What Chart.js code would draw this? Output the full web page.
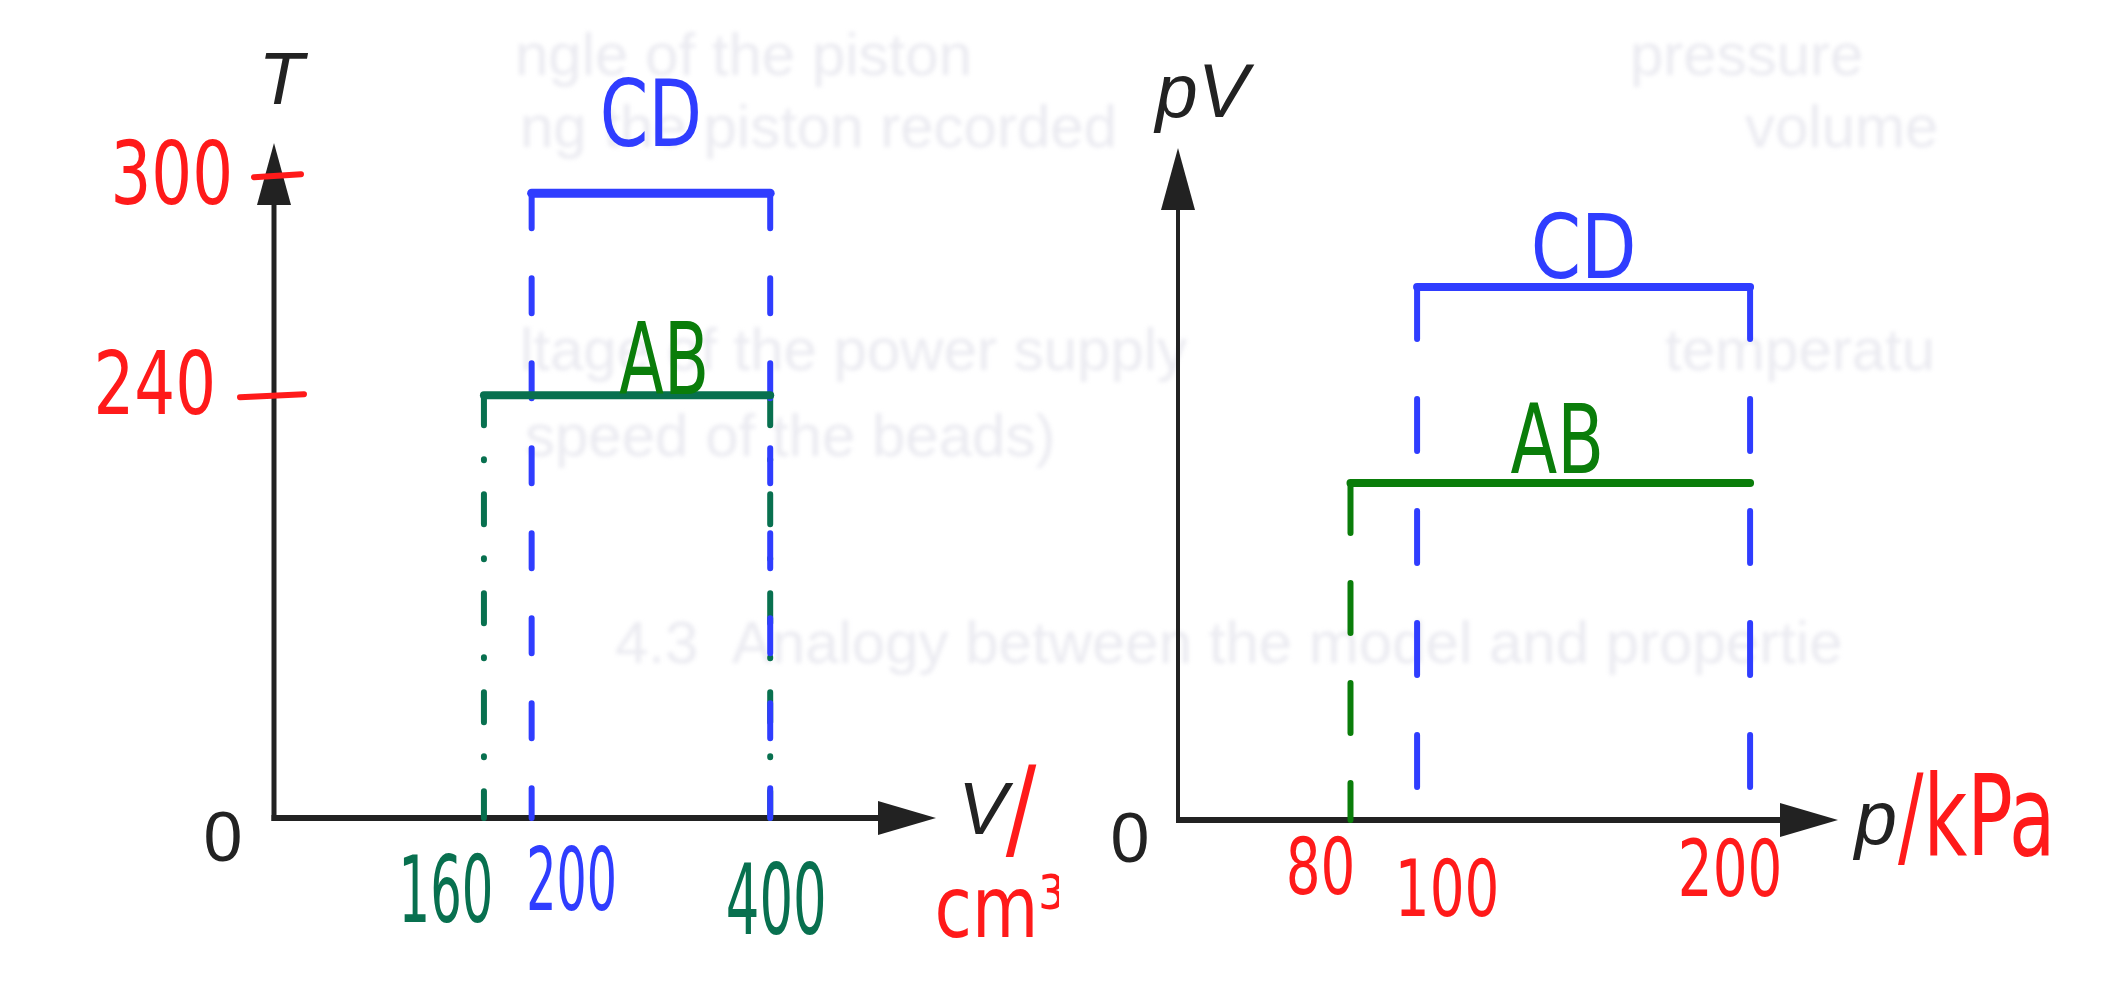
<!DOCTYPE html>
<html>
<head>
<meta charset="utf-8">
<script src="https://cdn.jsdelivr.net/npm/chart.js@4.4.1/dist/chart.umd.min.js"></script>
<style>
  html, body { margin: 0; padding: 0; background: #fff; width: 2118px; height: 1000px; overflow: hidden; }
  .box { position: absolute; top: 0; width: 1059px; height: 1000px; }
  #left-box { left: 0; }
  #right-box { left: 1059px; }
  .ghost { position: absolute; font-family: 'Liberation Sans', Arial, sans-serif; font-size: 60px;
           color: #ebebf1; filter: blur(2px); white-space: nowrap; transform: translateY(-50%); }
</style>
</head>
<body>
<!-- texto tenue del libro escaneado -->
<div class="ghost" style="left:515px; top:54px;">ngle of the piston</div>
<div class="ghost" style="left:1630px; top:54px;">pressure</div>
<div class="ghost" style="left:520px; top:126px;">ng the piston recorded</div>
<div class="ghost" style="left:1745px; top:126px;">volume</div>
<div class="ghost" style="left:520px; top:349px;">ltage of the power supply</div>
<div class="ghost" style="left:1665px; top:349px;">temperatu</div>
<div class="ghost" style="left:525px; top:435px;">speed of the beads)</div>
<div class="ghost" style="left:615px; top:642px;">4.3&nbsp;&nbsp;Analogy between the model and propertie</div>

<div class="box" id="left-box"><canvas id="chartTV" width="1059" height="1000"></canvas></div>
<div class="box" id="right-box"><canvas id="chartPV" width="1059" height="1000"></canvas></div>

<script>
// Datos
const volumeTicks = [160, 200, 400];      // V / cm3
const tempTicks = [240, 300];             // T
const pressureTicks = [80, 100, 200];     // p / kPa

const abVolume = [160, 400];
const abTemp = [240, 240];
const abPressure = [80, 200];
const abPV = [32, 32];                    // pV constante (J)

const cdVolume = [200, 400];
const cdTemp = [300, 300];
const cdPressure = [100, 200];
const cdPV = [40, 40];

// limites de ejes (el dibujo no esta a escala)
const T_MIN = 114.4, T_MAX = 314.9, V_MIN = -16, V_MAX = 539;
const PV_MIN = 18.24, PV_MAX = 45.67, P_MIN = 28.2, P_MAX = 226.4;

const BLUE = '#2f3dff';
const TEAL = '#08704f';
const GREEN = '#0a7d0a';
const RED = '#ff1a1a';
const INK = '#222222';
const HAND_FAMILY = "'DejaVu Sans Condensed', 'Liberation Sans Narrow', sans-serif";
const PRINT = "italic {s}px 'Liberation Sans', Arial, sans-serif";

function font(tpl, size) { return tpl.replace('{s}', size); }

function texto(ctx, txt, x, y, f, color, sx, align, base) {
  ctx.save();
  ctx.translate(x, y);
  ctx.scale(sx || 1, 1);
  ctx.font = f;
  ctx.fillStyle = color;
  ctx.textAlign = align || 'center';
  ctx.textBaseline = base || 'middle';
  ctx.fillText(txt, 0, 0);
  ctx.restore();
}

// rotulo "a mano": (x, y) es el centro de las mayusculas / cifras
function rotulo(ctx, txt, x, y, size, color, sx, align) {
  texto(ctx, txt, x, y + size * 0.365, size + 'px ' + HAND_FAMILY, color, sx, align || 'center', 'alphabetic');
}

function linea(ctx, x1, y1, x2, y2, color, w) {
  ctx.save();
  ctx.strokeStyle = color;
  ctx.lineWidth = w;
  ctx.lineCap = 'round';
  ctx.beginPath();
  ctx.moveTo(x1, y1);
  ctx.lineTo(x2, y2);
  ctx.stroke();
  ctx.restore();
}

// ejes con flechas
function dibujarEjes(chart, wy, wx) {
  const ctx = chart.ctx, a = chart.chartArea;
  ctx.save();
  ctx.strokeStyle = INK;
  ctx.fillStyle = INK;
  ctx.lineWidth = wy;
  ctx.beginPath();
  ctx.moveTo(a.left, a.bottom + wx / 2);
  ctx.lineTo(a.left, a.top + 40);
  ctx.stroke();
  ctx.lineWidth = wx;
  ctx.beginPath();
  ctx.moveTo(a.left - wy / 2, a.bottom);
  ctx.lineTo(a.right - 40, a.bottom);
  ctx.stroke();
  ctx.beginPath();
  ctx.moveTo(a.left, a.top);
  ctx.lineTo(a.left - 17, a.top + 62);
  ctx.lineTo(a.left + 17, a.top + 62);
  ctx.closePath();
  ctx.fill();
  ctx.beginPath();
  ctx.moveTo(a.right, a.bottom);
  ctx.lineTo(a.right - 58, a.bottom - 17);
  ctx.lineTo(a.right - 58, a.bottom + 17);
  ctx.closePath();
  ctx.fill();
  ctx.restore();
}

function vertical(xs, ys, floor, color, dash) {
  return {
    data: [{ x: xs, y: ys }, { x: xs, y: floor }],
    borderColor: color, borderWidth: 6, borderDash: dash, borderCapStyle: 'round'
  };
}

function horizontal(xs, ys, color, w) {
  return {
    data: xs.map((x, i) => ({ x: x, y: ys[i] })),
    borderColor: color, borderWidth: w, borderCapStyle: 'round'
  };
}

function opciones(pad, xmin, xmax, ymin, ymax) {
  return {
    responsive: false,
    animation: false,
    events: [],
    layout: { padding: pad },
    elements: { point: { radius: 0 }, line: { tension: 0 } },
    datasets: { scatter: { showLine: true, clip: false } },
    scales: {
      x: { type: 'linear', display: false, min: xmin, max: xmax },
      y: { type: 'linear', display: false, min: ymin, max: ymax }
    },
    plugins: { legend: { display: false }, tooltip: { enabled: false } }
  };
}

// ---------- grafico T - V ----------
const tvPlugin = {
  id: 'tvAnotaciones',
  beforeDatasetsDraw(chart) { dibujarEjes(chart, 5, 6); },
  afterDraw(chart) {
    const ctx = chart.ctx, a = chart.chartArea;
    const xs = chart.scales.x, ys = chart.scales.y;
    texto(ctx, 'T', a.left + 7, a.top - 60, font(PRINT, 74), INK);
    texto(ctx, '0', a.left - 51, a.bottom + 24, "70px 'Liberation Sans', Arial, sans-serif", INK);
    texto(ctx, 'V', a.right + 47, a.bottom - 5, font(PRINT, 74), INK);
    rotulo(ctx, '/', a.right + 85, a.bottom - 12, 112, RED, 0.9);
    rotulo(ctx, 'cm³', a.right + 64, a.bottom + 88, 86, RED, 0.88);

    // marcas del eje V
    const vColors = [TEAL, BLUE, TEAL];
    const vNudge = [-38, 40, 6];
    const vDrop = [70, 60, 80];
    const vSize = [92, 88, 98];
    volumeTicks.forEach((v, i) => {
      rotulo(ctx, String(v), xs.getPixelForValue(v) + vNudge[i], a.bottom + vDrop[i], vSize[i], vColors[i], 0.6);
    });

    // marcas del eje T
    const tRight = [-58, -41];
    const tLift = [-13, -21];
    const tDash = [[-34, 30, 2], [-20, 27, -16]];
    tempTicks.forEach((t, i) => {
      const py = ys.getPixelForValue(t);
      rotulo(ctx, String(t), a.left + tRight[i], py + tLift[i], 87, RED, 0.82, 'right');
      linea(ctx, a.left + tDash[i][0], py + tDash[i][2], a.left + tDash[i][1], py + tDash[i][2] - 3, RED, 6);
    });

    // nombres de los procesos
    const cdMid = xs.getPixelForValue((cdVolume[0] + cdVolume[1]) / 2);
    rotulo(ctx, 'CD', cdMid, ys.getPixelForValue(cdTemp[0]) - 81, 92, BLUE, 0.84);
    const abMid = xs.getPixelForValue((abVolume[0] + abVolume[1]) / 2);
    rotulo(ctx, 'AB', abMid + 37, ys.getPixelForValue(abTemp[0]) - 38, 100, GREEN, 0.73);
  }
};

new Chart(document.getElementById('chartTV'), {
  type: 'scatter',
  data: {
    datasets: [
      horizontal(cdVolume, cdTemp, BLUE, 9),
      horizontal(abVolume, abTemp, TEAL, 8),
      vertical(cdVolume[0], cdTemp[0], T_MIN, BLUE, [35, 50]),
      vertical(cdVolume[1], cdTemp[1], T_MIN, BLUE, [35, 50]),
      vertical(abVolume[0], abTemp[0], T_MIN, TEAL, [30, 34, 1, 34]),
      vertical(abVolume[1], abTemp[1], T_MIN, TEAL, [30, 34, 1, 34])
    ]
  },
  options: opciones({ left: 274, right: 123, top: 143, bottom: 182 }, V_MIN, V_MAX, T_MIN, T_MAX),
  plugins: [tvPlugin]
});

// ---------- grafico pV - p ----------
const pvPlugin = {
  id: 'pvAnotaciones',
  beforeDatasetsDraw(chart) { dibujarEjes(chart, 4, 6); },
  afterDraw(chart) {
    const ctx = chart.ctx, a = chart.chartArea;
    const xs = chart.scales.x, ys = chart.scales.y;
    texto(ctx, 'pV', a.left + 24, a.top - 52, font(PRINT, 76), INK);
    texto(ctx, '0', a.left - 48, a.bottom + 23, "70px 'Liberation Sans', Arial, sans-serif", INK);
    texto(ctx, 'p', a.right + 38, a.bottom + 24, font(PRINT, 76), INK, 1, 'center', 'alphabetic');
    texto(ctx, '/kPa', a.right + 60, a.bottom + 35, '112px ' + HAND_FAMILY, RED, 0.75, 'left', 'alphabetic');

    const pNudge = [-30, 30, -20];
    const pDrop = [46, 68, 48];
    pressureTicks.forEach((p, i) => {
      rotulo(ctx, String(p), xs.getPixelForValue(p) + pNudge[i], a.bottom + pDrop[i], 78, RED, 0.78);
    });

    const cdMid = xs.getPixelForValue((cdPressure[0] + cdPressure[1]) / 2);
    rotulo(ctx, 'CD', cdMid, ys.getPixelForValue(cdPV[0]) - 41, 89, BLUE, 0.9);
    const abMid = xs.getPixelForValue((abPressure[0] + abPressure[1]) / 2);
    rotulo(ctx, 'AB', abMid + 7, ys.getPixelForValue(abPV[0]) - 45, 96, GREEN, 0.79);
  }
};

new Chart(document.getElementById('chartPV'), {
  type: 'scatter',
  data: {
    datasets: [
      horizontal(cdPressure, cdPV, BLUE, 8),
      horizontal(abPressure, abPV, GREEN, 8),
      vertical(cdPressure[0], cdPV[0], PV_MIN, BLUE, [52, 60]),
      vertical(cdPressure[1], cdPV[1], PV_MIN, BLUE, [52, 60]),
      vertical(abPressure[0], abPV[0], PV_MIN, GREEN, [50, 50])
    ]
  },
  options: opciones({ left: 119, right: 280, top: 148, bottom: 180 }, P_MIN, P_MAX, PV_MIN, PV_MAX),
  plugins: [pvPlugin]
});
</script>
</body>
</html>
